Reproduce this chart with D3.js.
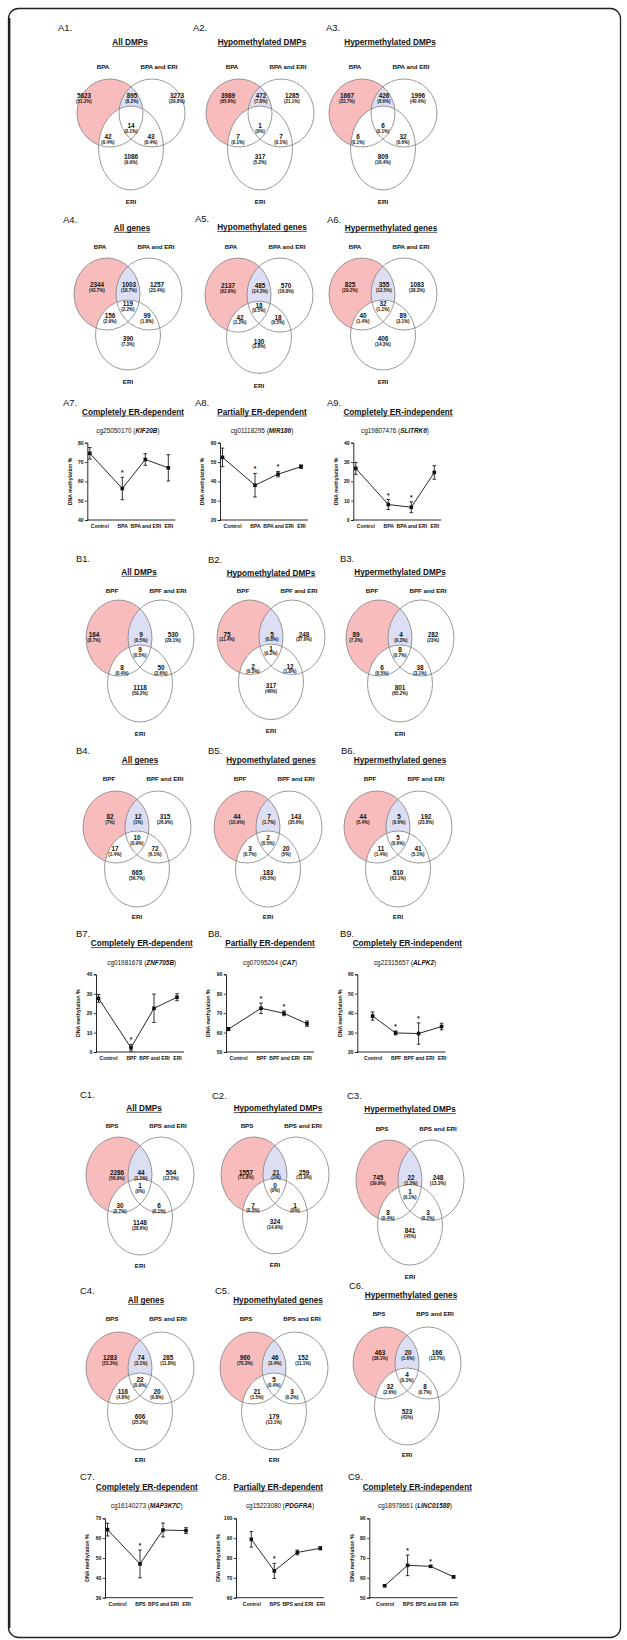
<!DOCTYPE html>
<html><head><meta charset="utf-8">
<script src="https://cdn.jsdelivr.net/npm/d3@7"></script>
<style>
body{margin:0;background:#fff;}
svg text{font-family:"Liberation Sans",Arial,sans-serif;fill:#111;}
.narrow{font-family:"Liberation Sans Narrow","Liberation Sans",Arial,sans-serif;}
</style></head><body>
<svg id="fig" width="627" height="1640"></svg>
<script>
// ---------------- DATA ----------------
const groupLetters = ["A", "B", "C"];
const chemicals = ["BPA", "BPF", "BPS"];
const vennTitles = ["All DMPs", "Hypomethylated DMPs", "Hypermethylated DMPs",
                    "All genes", "Hypomethylated genes", "Hypermethylated genes"];
// region order: only-X, X∩(X+ERI), only X+ERI, all three, X∩ERI, (X+ERI)∩ERI, only ERI
const countsBPA = [[5623, 895, 3273, 14, 42, 43, 1086], [3989, 472, 1285, 1, 7, 7, 317],
                   [1667, 426, 1996, 6, 6, 32, 809], [2344, 1003, 1257, 119, 156, 99, 390],
                   [2137, 485, 570, 18, 42, 18, 130], [825, 355, 1083, 32, 40, 89, 406]];
const pctsBPA = [["51.2%", "8.2%", "29.8%", "0.1%", "0.4%", "0.4%", "9.9%"],
                 ["65.6%", "7.8%", "21.1%", "0%", "0.1%", "0.1%", "5.2%"],
                 ["33.7%", "8.6%", "40.4%", "0.1%", "0.1%", "0.6%", "16.4%"],
                 ["43.7%", "18.7%", "23.4%", "2.2%", "2.9%", "1.8%", "7.3%"],
                 ["62.9%", "14.3%", "16.8%", "0.5%", "1.2%", "0.5%", "3.8%"],
                 ["29.2%", "12.5%", "38.3%", "1.1%", "1.4%", "3.1%", "14.3%"]];
const countsBPF = [[164, 9, 530, 9, 8, 50, 1118], [75, 5, 248, 1, 2, 12, 317],
                   [89, 4, 282, 8, 6, 38, 801], [82, 12, 315, 10, 17, 72, 665],
                   [44, 7, 143, 2, 3, 20, 183], [44, 5, 192, 5, 11, 41, 510]];
const pctsBPF = [["8.7%", "0.5%", "28.1%", "0.5%", "0.4%", "2.6%", "59.2%"],
                 ["11.4%", "0.8%", "37.6%", "0.2%", "0.3%", "1.8%", "48%"],
                 ["7.2%", "0.3%", "23%", "0.7%", "0.5%", "3.1%", "65.2%"],
                 ["7%", "1%", "26.9%", "0.9%", "1.4%", "6.1%", "56.7%"],
                 ["10.9%", "1.7%", "35.6%", "0.5%", "0.7%", "5%", "45.5%"],
                 ["5.4%", "0.6%", "23.8%", "0.6%", "1.4%", "5.1%", "63.1%"]];
const countsBPS = [[2286, 44, 504, 1, 30, 6, 1148], [1557, 21, 259, 0, 7, 1, 324],
                   [745, 22, 248, 1, 8, 3, 841], [1283, 74, 285, 22, 116, 20, 606],
                   [960, 46, 152, 5, 21, 3, 179], [463, 20, 166, 4, 32, 8, 523]];
const pctsBPS = [["56.9%", "1.1%", "12.5%", "0%", "0.7%", "0.1%", "28.6%"],
                 ["71.8%", "1%", "11.9%", "0%", "0.3%", "0%", "14.9%"],
                 ["39.9%", "1.2%", "13.3%", "0.1%", "0.4%", "0.2%", "45%"],
                 ["53.3%", "3.1%", "11.8%", "0.9%", "4.8%", "0.8%", "25.2%"],
                 ["70.3%", "3.4%", "11.1%", "0.4%", "1.5%", "0.2%", "13.1%"],
                 ["38.1%", "1.6%", "13.7%", "0.3%", "2.6%", "0.7%", "43%"]];

const lineTitles = ["Completely ER-dependent", "Partially ER-dependent", "Completely ER-independent"];
const probesBPA = ["cg25050170", "cg01118295", "cg19807476"];
const genesBPA = ["KIF20B", "MIR186", "SLITRK6"];
const meansBPA = [[74.5, 56.3, 71.3, 67.0], [52.4, 38.0, 43.7, 47.6], [26.7, 8.0, 6.6, 24.6]];
const errsBPA = [[3.0, 5.8, 3.0, 6.8], [4.8, 6.1, 1.4, 0.9], [3.1, 2.6, 2.8, 3.5]];
const starsBPA = [[0, 1, 0, 0], [0, 1, 1, 0], [0, 1, 1, 0]];
const ticksBPA = [[40, 50, 60, 70, 80], [20, 30, 40, 50, 60], [0, 10, 20, 30, 40]];
const probesBPF = ["cg01981678", "cg07095264", "cg22315657"];
const genesBPF = ["ZNF705B", "CA7", "ALPK2"];
const meansBPF = [[27.6, 2.2, 22.5, 28.2], [61.8, 72.5, 69.9, 64.6], [38.5, 29.8, 29.5, 33.1]];
const errsBPF = [[2.0, 1.7, 7.3, 1.8], [0.8, 2.7, 1.2, 1.4], [2.1, 1.0, 5.5, 1.7]];
const starsBPF = [[0, 1, 0, 0], [0, 1, 1, 0], [0, 1, 1, 0]];
const ticksBPF = [[0, 10, 20, 30, 40], [50, 60, 70, 80, 90], [20, 30, 40, 50, 60]];
const probesBPS = ["cg16140273", "cg15223080", "cg18978661"];
const genesBPS = ["MAP3K7C", "PDGFRA", "LINC01588"];
const meansBPS = [[64.3, 47.0, 64.1, 63.8], [89.4, 73.5, 82.8, 84.9], [56.0, 66.3, 65.8, 60.5]];
const errsBPS = [[3.2, 7.0, 3.5, 1.5], [3.9, 3.8, 1.2, 0.8], [0.3, 5.2, 0.4, 0.6]];
const starsBPS = [[0, 1, 0, 0], [0, 1, 0, 0], [0, 1, 1, 0]];
const ticksBPS = [[30, 40, 50, 60, 70], [60, 70, 80, 90, 100], [50, 60, 70, 80, 90]];
const yAxisTitle = "DNA methylation %";

// ---------------- LAYOUT (positions/styles only) ----------------
const vennRows = [
  {ty: [79, 79, 79], rT: 34, eC: 69, eR: 42, n: [17, 47, 58, 78], eri: 123, set: -12, title: -37, panel: -51},
  {ty: [258, 258, 258], rT: 36, eC: 77, eR: 35, n: [27, 46, 58, 81], eri: 124, set: -11, title: -30, panel: -38},
  {ty: [600, 600, 600], rT: 38, eC: 83.5, eR: 38.5, n: [35, 50, 68, 88], eri: 134, set: -9, title: -28, panel: -41},
  {ty: [791, 791, 791], rT: 36, eC: 78, eR: 38, n: [26, 47, 58, 82], eri: 126, set: -12, title: -31, panel: -40},
  {ty: [1137, 1137, 1140], rT: 38, eC: 80, eR: 38, n: [36, 49, 69, 86], eri: 129, set: -11, title: -29, panel: -42},
  {ty: [1332, 1332, 1327], rT: 36, eC: 79.5, eR: 38.5, n: [26, 48, 60, 85], eri: 128, set: -13, title: -32, panel: -41}
];
// per panel: cx, titleX, panelX, dxL, dxR, dLE, dRE, sy
const vennPos = [
  [[131, 130, 58, -47, 46, -23, 20, 1], [260, 262, 193, -32, 32, -22, 21, 1], [383, 390, 326, -36, 35, -25, 20, 1]],
  [[128, 132, 63, -31, 29, -18, 19, 1], [259, 262, 195, -31, 27, -19, 19, 1.03], [383, 391, 327, -33, 34, -20, 20, 1]],
  [[140, 139, 76, -46, 33, -18, 21, 1], [271, 271, 208, -44, 33, -18, 19, 0.98], [400, 400, 340, -44, 33, -18, 20, 1]],
  [[137, 140, 76, -27, 28, -22, 18, 1], [268, 271, 208, -31, 28, -18, 18, 1], [398, 400, 341, -35, 28, -17, 20, 1]],
  [[140, 144, 80, -23, 31, -20, 19, 1], [275, 278, 212, -29, 29, -22, 20, 0.99], [410, 410, 347, -32, 28, -22, 18, 1.06]],
  [[140, 146, 80, -30, 28, -17, 17, 1], [274, 278, 215, -29, 29, -17, 18, 1], [407, 411, 349, -27, 30, -17, 18, 1]]
];
const lineRows = [
  {yTop: 442.7, yBot: 520, panelY: 403, titleY: 411.7, subY: 430.7},
  {yTop: 974.3, yBot: 1052, panelY: 934, titleY: 943.3, subY: 962.3},
  {yTop: 1518.3, yBot: 1597.7, panelY: 1476.7, titleY: 1486.7, subY: 1506}
];
// per chart: axisX, titleX, subX, panelX, shifted-control flag
const linePos = [
  [[87.3, 133, 128, 63, 1], [220, 262, 262, 195, 1], [353.3, 398, 395, 327, 1]],
  [[96, 141.7, 141.7, 76, 1], [226, 270, 270, 208, 1], [357.3, 407.3, 405, 340, 0]],
  [[105, 146.7, 146.7, 80, 1], [236, 278.3, 280, 215, 0], [369.3, 417.3, 415, 348, 0]]
];

const PINK = "#f9bcbc", LAV = "#dcdff4", STROKE = "#808080";
const svg = d3.select("#fig");
svg.append("rect").attr("width", 627).attr("height", 1640).attr("fill", "#fff");

// frame
svg.append("rect").attr("x", 8.5).attr("y", 8.5).attr("width", 612).attr("height", 1629)
  .attr("rx", 10).attr("fill", "none").attr("stroke", "#222").attr("stroke-width", 1.3);
svg.append("line").attr("x1", 9.6).attr("x2", 9.6).attr("y1", 18).attr("y2", 1628)
  .attr("stroke", "#222").attr("stroke-width", 1.6);

let clipId = 0;
function underlinedTitle(g, x, y, txt, size) {
  const t = g.append("text").attr("x", x).attr("y", y).attr("text-anchor", "middle")
    .attr("font-size", size).attr("font-weight", "bold").text(txt);
  const w = t.node().getComputedTextLength();
  g.append("line").attr("x1", x - w / 2).attr("x2", x + w / 2)
    .attr("y1", y + 1.3).attr("y2", y + 1.3).attr("stroke", "#111").attr("stroke-width", 0.7);
}

function drawVenn(rowIdx, col, letter, chem, counts, pcts, title, num) {
  const R = vennRows[rowIdx], P = vennPos[rowIdx][col];
  const cx = P[0], ty = R.ty[col], sy = P[7];
  const Y = v => ty + v * sy;
  const g = svg.append("g");
  const L = {cx: cx - 21, cy: Y(R.rT), rx: 33, ry: R.rT * sy};
  const Rr = {cx: cx + 21, cy: Y(R.rT), rx: 33, ry: R.rT * sy};
  const E = {cx: cx, cy: Y(R.eC), rx: 32.5, ry: R.eR * sy};
  const ell = (sel, e) => sel.append("ellipse").attr("cx", e.cx).attr("cy", e.cy).attr("rx", e.rx).attr("ry", e.ry);
  const id = "clipL" + (clipId++);
  const cp = g.append("clipPath").attr("id", id);
  ell(cp, L);
  ell(g, L).attr("fill", PINK);
  ell(g, Rr).attr("fill", LAV).attr("clip-path", `url(#${id})`);
  ell(g, E).attr("fill", "#fff");
  [L, Rr, E].forEach(e => ell(g, e).attr("fill", "none").attr("stroke", STROKE).attr("stroke-width", 0.8));

  const spots = [[P[3], R.n[0]], [1, R.n[0]], [P[4], R.n[0]], [0, R.n[1]], [P[5], R.n[2]], [P[6], R.n[2]], [0, R.n[3]]];
  spots.forEach((s, i) => {
    g.append("text").attr("class", "narrow").attr("x", cx + s[0]).attr("y", Y(s[1])).attr("dy", "0.35em")
      .attr("text-anchor", "middle").attr("font-size", 6.4).attr("font-weight", "bold").text(counts[i]);
    g.append("text").attr("class", "narrow").attr("x", cx + s[0]).attr("y", Y(s[1] + 5)).attr("dy", "0.35em")
      .attr("text-anchor", "middle").attr("font-size", 4.5).attr("font-weight", "bold").text("(" + pcts[i] + ")");
  });
  const setLab = (x, y, t) => g.append("text").attr("x", x).attr("y", y).attr("dy", "0.35em")
    .attr("text-anchor", "middle").attr("font-size", 6.2).attr("font-weight", "bold").attr("fill", "#222").text(t);
  setLab(cx - 28, Y(R.set), chem);
  setLab(cx + 28, Y(R.set), chem + " and ERI");
  setLab(cx, Y(R.eri), "ERI");
  underlinedTitle(g, P[1], Y(R.title) + 3, title, 8.2);
  g.append("text").attr("x", P[2]).attr("y", Y(R.panel)).attr("dy", "0.35em")
    .attr("font-size", 9.5).text(letter + num + ".");
}

function drawLine(rowIdx, col, letter, chem, means, errs, stars, ticks, probe, gene, title, num) {
  const R = lineRows[rowIdx], P = linePos[rowIdx][col];
  const ax = P[0];
  const cats = ["Control", chem, chem + " and ERI", "ERI"];
  const g = svg.append("g");
  const y = d3.scaleLinear().domain([ticks[0], ticks[ticks.length - 1]]).range([R.yBot, R.yTop]);
  const x0 = P[4] ? 12 : 15.3;
  const x = d3.scalePoint().domain(cats).range([ax + x0, ax + x0 + 69]);
  const ptX = (c, i) => x(c) + (i === 0 && P[4] ? -9.5 : 0);

  const yAx = g.append("g").attr("transform", `translate(${ax},0)`)
    .call(d3.axisLeft(y).tickValues(ticks).tickSize(2.2).tickPadding(1.5));
  const xAx = g.append("g").attr("transform", `translate(0,${R.yBot})`)
    .call(d3.axisBottom(x).tickSize(0).tickPadding(4.5));
  xAx.select(".domain").remove();
  g.append("line").attr("x1", ax).attr("x2", ax + 88).attr("y1", R.yBot).attr("y2", R.yBot)
    .attr("stroke", "#111").attr("stroke-width", 0.9);
  [yAx, xAx].forEach(a => {
    a.selectAll("text").attr("font-size", 5.1).attr("font-weight", "bold").attr("fill", "#111")
      .attr("font-family", "'Liberation Sans Narrow','Liberation Sans',Arial,sans-serif");
    a.selectAll("line").attr("stroke", "#111").attr("stroke-width", 0.8);
    a.select(".domain").attr("stroke", "#111").attr("stroke-width", 0.9);
  });

  g.append("path").datum(means)
    .attr("d", d3.line().x((d, i) => ptX(cats[i], i)).y(d => y(d)))
    .attr("fill", "none").attr("stroke", "#111").attr("stroke-width", 0.9);
  means.forEach((m, i) => {
    const px = ptX(cats[i], i), e = errs[i];
    g.append("line").attr("x1", px).attr("x2", px).attr("y1", y(m - e)).attr("y2", y(m + e))
      .attr("stroke", "#111").attr("stroke-width", 0.85);
    [m - e, m + e].forEach(v => g.append("line").attr("x1", px - 1.8).attr("x2", px + 1.8)
      .attr("y1", y(v)).attr("y2", y(v)).attr("stroke", "#111").attr("stroke-width", 0.85));
    g.append("rect").attr("x", px - 1.8).attr("y", y(m) - 1.8).attr("width", 3.6).attr("height", 3.6).attr("fill", "#111");
    if (stars[i]) g.append("text").attr("x", px).attr("y", y(m + e) - 2).attr("text-anchor", "middle")
      .attr("font-size", 6.5).attr("font-weight", "bold").text("*");
  });

  g.append("text").attr("transform", `translate(${ax - 17.5},${(R.yTop + R.yBot) / 2}) rotate(-90)`)
    .attr("text-anchor", "middle").attr("dy", "0.35em").attr("font-size", 5.2).attr("font-weight", "bold")
    .attr("fill", "#222").text(yAxisTitle);
  const st = g.append("text").attr("x", P[2]).attr("y", R.subY).attr("dy", "0.35em").attr("text-anchor", "middle")
    .attr("font-size", 6.4).attr("fill", "#222");
  st.append("tspan").text(probe + " (");
  st.append("tspan").attr("font-weight", "bold").attr("font-style", "italic").text(gene);
  st.append("tspan").text(")");
  underlinedTitle(g, P[1], R.titleY + 3, title, 8.2);
  g.append("text").attr("x", P[3]).attr("y", R.panelY).attr("dy", "0.35em")
    .attr("font-size", 9.5).text(letter + num + ".");
}

const allCounts = [countsBPA, countsBPF, countsBPS];
const allPcts = [pctsBPA, pctsBPF, pctsBPS];
const allMeans = [meansBPA, meansBPF, meansBPS];
const allErrs = [errsBPA, errsBPF, errsBPS];
const allStars = [starsBPA, starsBPF, starsBPS];
const allTicks = [ticksBPA, ticksBPF, ticksBPS];
const allProbes = [probesBPA, probesBPF, probesBPS];
const allGenes = [genesBPA, genesBPF, genesBPS];

chemicals.forEach((chem, k) => {
  for (let j = 0; j < 6; j++) {
    const rowIdx = k * 2 + Math.floor(j / 3), col = j % 3;
    drawVenn(rowIdx, col, groupLetters[k], chem, allCounts[k][j], allPcts[k][j], vennTitles[j], j + 1);
  }
  for (let c = 0; c < 3; c++) {
    drawLine(k, c, groupLetters[k], chem, allMeans[k][c], allErrs[k][c], allStars[k][c], allTicks[k][c],
      allProbes[k][c], allGenes[k][c], lineTitles[c], 7 + c);
  }
});
</script>
</body></html>
